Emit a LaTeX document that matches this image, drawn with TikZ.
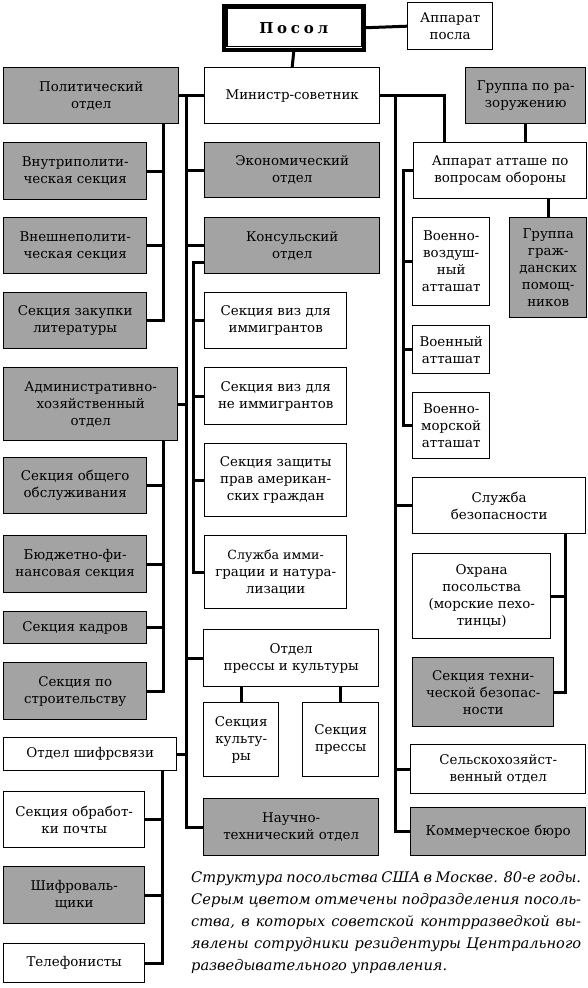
\documentclass[tikz,border=0pt]{standalone}
\usepackage{fontspec}
\setmainfont{DejaVu Serif}
\usetikzlibrary{calc}
\definecolor{boxgray}{RGB}{163,163,163}
\tikzset{
  box/.style={draw=black, line width=1.4pt, fill=white, inner sep=0pt, align=center,
    font=\fontsize{13.4}{17}\selectfont, anchor=north west},
  gbox/.style={box, fill=boxgray},
  posolbox/.style={draw=black, line width=3.5pt, fill=white, inner sep=0pt, anchor=north west,
    font=\fontsize{15}{18}\bfseries},
  conn/.style={draw=black, line width=3pt, line join=miter},
  captext/.style={inner sep=0pt, anchor=base west, font=\fontsize{14.6}{18}\itshape}
}
\newcommand\mybox[7]{\node[#1, minimum width=#4pt-#2pt, minimum height=#5pt-#3pt] (#6) at (#2,#3) {#7};}
\begin{document}
\begin{tikzpicture}[x=1pt,y=-1pt]
\useasboundingbox (0,0) rectangle (587,988);
% coordinates for trunks
\coordinate (tL) at (186,0);
\coordinate (tK) at (193,0);
\coordinate (tP) at (163,0);
\coordinate (tS) at (162,0);
\coordinate (tR) at (395,0);
\coordinate (tA) at (403,0);
\coordinate (tB) at (565,0);
\coordinate (tM) at (444,0);
% top
\node[posolbox, minimum width=140pt, minimum height=44pt] (posol) at (222,4) {\addfontfeature{LetterSpace=25}Посол};
\draw[line width=1.2pt] ([xshift=5pt,yshift=-4pt]posol.north west) rectangle ([xshift=-4pt,yshift=5pt]posol.south east);
\mybox{box}{407}{2}{492}{49}{app}{Аппарат\\посла}
% left column
\mybox{gbox}{3}{67}{178}{123}{pol}{Политический\\отдел}
\mybox{gbox}{3}{142}{146}{199}{vnutr}{Внутриполити-\\ческая секция}
\mybox{gbox}{3}{217}{146}{273}{vnesh}{Внешнеполити-\\ческая секция}
\mybox{gbox}{3}{292}{146}{348}{zak}{Секция закупки\\литературы}
\mybox{gbox}{3}{367}{177}{440}{adm}{Административно-\\хозяйственный\\отдел}
\mybox{gbox}{3}{457}{146}{513}{obsl}{Секция общего\\обслуживания}
\mybox{gbox}{3}{535}{146}{592}{budg}{Бюджетно-фи-\\нансовая секция}
\mybox{gbox}{3}{611}{146}{643}{kadr}{Секция кадров}
\mybox{gbox}{3}{662}{146}{719}{stroi}{Секция по\\строительству}
\mybox{box}{3}{737}{176}{770}{shifr}{Отдел шифрсвязи}
\mybox{box}{3}{791}{144}{847}{pocht}{Секция обработ-\\ки почты}
\mybox{gbox}{3}{866}{144}{923}{shifrov}{Шифроваль-\\щики}
\mybox{box}{3}{943}{144}{982}{tel}{Телефонисты}
% middle column
\mybox{box}{204}{67}{379}{123}{min}{Министр-советник}
\mybox{gbox}{204}{142}{379}{197}{econ}{Экономический\\отдел}
\mybox{gbox}{204}{217}{379}{273}{kons}{Консульский\\отдел}
\mybox{box}{204}{292}{346}{348}{visa1}{Секция виз для\\иммигрантов}
\mybox{box}{204}{367}{346}{424}{visa2}{Секция виз для\\не иммигрантов}
\mybox{box}{204}{443}{346}{516}{zash}{Секция защиты\\прав американ-\\ских граждан}
\mybox{box}{204}{535}{346}{608}{immig}{\fontsize{12.6}{17}\selectfont Служба имми-\\грации и натура-\\лизации}
\mybox{box}{203}{629}{378}{686}{pk}{Отдел\\прессы и культуры}
\mybox{box}{203}{702}{278}{776}{kult}{Секция\\культу-\\ры}
\mybox{box}{302}{702}{378}{776}{pressa}{Секция\\прессы}
\mybox{gbox}{203}{798}{378}{855}{nauch}{Научно-\\технический отдел}
% right column
\mybox{gbox}{465}{67}{585}{123}{raz}{Группа по ра-\\зоружению}
\mybox{box}{413}{142}{586}{198}{att}{Аппарат атташе по\\вопросам обороны}
\mybox{box}{412}{217}{489}{305}{vvs}{Военно-\\воздуш-\\ный\\атташат}
\mybox{gbox}{509}{217}{586}{317}{grazh}{Группа\\граж-\\данских\\помощ-\\ников}
\mybox{box}{412}{325}{489}{373}{voen}{Военный\\атташат}
\mybox{box}{412}{392}{489}{458}{vmf}{Военно-\\морской\\атташат}
\mybox{box}{412}{477}{585}{533}{sb}{Служба\\безопасности}
\mybox{box}{412}{553}{550}{638}{ohr}{Охрана\\посольства\\(морские пехо-\\тинцы)}
\mybox{gbox}{412}{657}{553}{726}{tech}{Секция техни-\\ческой безопас-\\ности}
\mybox{box}{410}{744}{585}{793}{selsk}{Сельскохозяйст-\\венный отдел}
\mybox{gbox}{410}{807}{585}{855}{komm}{Коммерческое бюро}
% connectors
\draw[conn] (posol.east) -- (app.west);
\draw[conn] (posol.south) -- (min.north);
\draw[conn] (pol.east) -- (min.west);
\draw[conn] (tL |- min.west) -- (tL |- nauch.west) -- (nauch.west);
\foreach \n in {econ,kons,pk} \draw[conn] (tL |- \n.west) -- (\n.west);
\foreach \n in {adm,shifr} \draw[conn] (\n.east) -- (tL |- \n.east);
\draw[conn] (tP |- pol.south) -- (tP |- zak.east) -- (zak.east);
\foreach \n in {vnutr,vnesh} \draw[conn] (\n.east) -- (tP |- \n.east);
\draw[conn] (tP |- adm.south) -- (tP |- stroi.east) -- (stroi.east);
\foreach \n in {obsl,budg,kadr} \draw[conn] (\n.east) -- (tP |- \n.east);
\draw[conn] (tS |- shifr.south) -- (tS |- tel.east) -- (tel.east);
\foreach \n in {pocht,shifrov} \draw[conn] (\n.east) -- (tS |- \n.east);
\coordinate (ks) at ([yshift=-17pt]kons.west);
\draw[conn] (ks) -- (tK |- ks) -- (tK |- immig.west) -- (immig.west);
\foreach \n in {visa1,visa2,zash} \draw[conn] (tK |- \n.west) -- (\n.west);
\draw[conn] (kult.north) -- (kult.north |- pk.south);
\draw[conn] (pressa.north) -- (pressa.north |- pk.south);
\draw[conn] (min.east) -- (tM |- min.east) -- (tM |- att.north);
\draw[conn] (tR |- min.east) -- (tR |- komm.west) -- (komm.west);
\foreach \n in {sb,selsk} \draw[conn] (tR |- \n.west) -- (\n.west);
\draw[conn] (raz.south) -- (raz.south |- att.north);
\draw[conn] (att.west) -- (tA |- att.west) -- (tA |- vmf.west) -- (vmf.west);
\foreach \n in {vvs,voen} \draw[conn] (tA |- \n.west) -- (\n.west);
\draw[conn] (grazh.north) -- (grazh.north |- att.south);
\draw[conn] (tB |- sb.south) -- (tB |- tech.east) -- (tech.east);
\draw[conn] (ohr.east) -- (tB |- ohr.east);
% caption
\node[captext] (c1) at (191,882) {\makebox[390pt][s]{Структура посольства США в Москве. 80-е годы.}};
\node[captext] (c2) at (191,904) {\makebox[390pt][s]{Серым цветом отмечены подразделения посоль-}};
\node[captext] (c3) at (191,926) {\makebox[390pt][s]{ства, в которых советской контрразведкой вы-}};
\node[captext] (c4) at (191,948) {\makebox[390pt][s]{явлены сотрудники резидентуры Центрального}};
\node[captext] (c5) at (191,970) {разведывательного управления.};
\end{tikzpicture}
\end{document}
